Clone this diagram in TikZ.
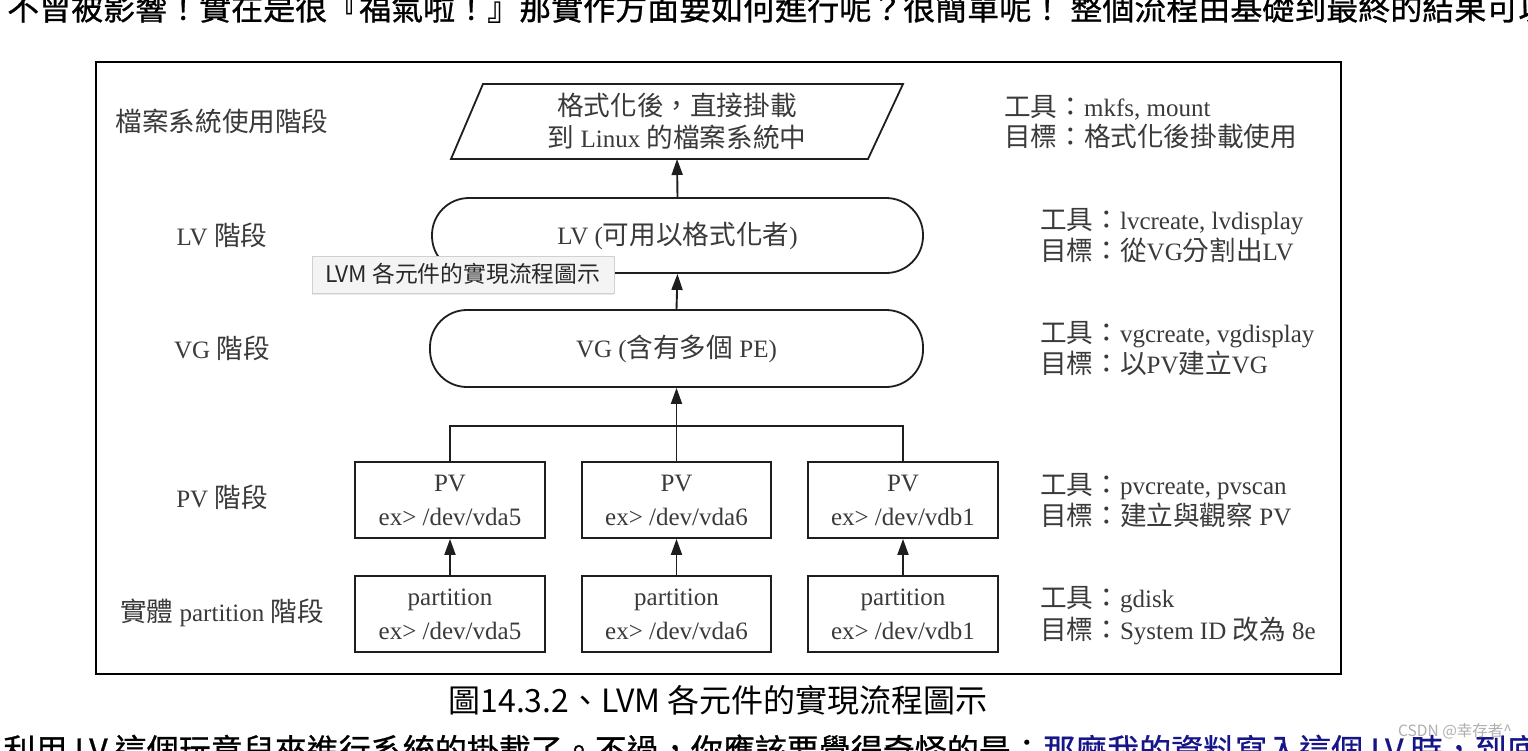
\documentclass[tikz,border=0pt]{standalone}
\usepackage{fontspec}
\setmainfont{Liberation Serif}
\newfontfamily\cjk[Scale=1.065]{Noto Sans CJK TC}
\newfontfamily\web{Noto Sans CJK TC}
\newfontfamily\webb[FakeBold=0.8]{Noto Sans CJK TC}
\usetikzlibrary{arrows.meta,shadows}
\definecolor{txt}{HTML}{3A3A3A}
\definecolor{ln}{HTML}{1E1E1E}
\definecolor{linkblue}{HTML}{16168A}
\definecolor{tipfill}{HTML}{F4F4F4}
\definecolor{tipline}{HTML}{D0D0D0}
\newcommand\zh[1]{{\cjk #1}}
\begin{document}
\begin{tikzpicture}[x=1pt,y=-1pt,
  dtext/.style={text=txt,font=\fontsize{25}{32}\selectfont,inner sep=0pt,align=center},
  stagelabel/.style={dtext,anchor=base},
  note/.style={dtext,anchor=base west},
  stadium/.style={dtext,draw=ln,line width=1.8pt,rounded corners=37pt,minimum height=75pt},
  devbox/.style={dtext,draw=ln,line width=1.8pt,minimum width=190pt,minimum height=76pt,font=\fontsize{25}{34}\selectfont},
  conn/.style={draw=ln,line width=1.9pt,-{Triangle[length=16pt,width=11pt]}},
  wire/.style={draw=ln,line width=1.9pt},
  webtext/.style={font=\webb\fontsize{32}{38}\selectfont,inner sep=0pt,text=black}
]
\useasboundingbox (0,0) rectangle (1528,750);
\fill[white] (0,0) rectangle (1528,750);
\begin{scope}
\clip (0,0) rectangle (1528,750);
% surrounding page text
\node[webtext,anchor=base west] (toptext) at (7,20) {不曾被影響！實在是很『福氣啦！』那實作方面要如何進行呢？很簡單呢！ 整個流程由基礎到最終的結果可以};
\node[webtext,anchor=base east] (bottext) at (1043,762) {利用 LV 這個玩意兒來進行系統的掛載了。不過，你應該要覺得奇怪的是：};
\node[webtext,anchor=base west,text=linkblue] (botlink) at (1043,762) {那麼我的資料寫入這個 LV 時，到底};
\end{scope}
\node[inner sep=0pt,text=black,font=\web\fontsize{32}{38}\selectfont,anchor=base] (caption) at (718,712) {圖14.3.2、LVM 各元件的實現流程圖示};
\node[font=\web\fontsize{15.5}{17}\selectfont,text={rgb,255:red,175;green,175;blue,175},anchor=base west,inner sep=0pt] (wm) at (1398,736) {CSDN @幸存者\^{}};

% frame
\draw[line width=2pt,black] (96,62) rectangle (1341,674);

% left stage labels
\node[stagelabel] (l1) at (222,131.5) {\zh{檔案系統使用階段}};
\node[stagelabel] (l2) at (222,245.5) {LV \zh{階段}};
\node[stagelabel] (l3) at (222,358.5) {VG \zh{階段}};
\node[stagelabel] (l4) at (222,507.5) {PV \zh{階段}};
\node[stagelabel] (l5) at (222,621.5) {\zh{實體} partition \zh{階段}};

% parallelogram (file system)
\coordinate (fsbl) at (451,159);
\coordinate (fsbr) at (868,159);
\coordinate (fstr) at (903,84);
\coordinate (fstl) at (483,84);
\draw[ln,line width=1.8pt] (fsbl) -- (fstl) -- (fstr) -- (fsbr) -- cycle;
\coordinate (fsb) at (677,159);
\node[dtext] (fs) at (677,121.5) {\zh{格式化後，直接掛載}\\\zh{到} Linux \zh{的檔案系統中}};

% LV and VG
\node[stadium,minimum width=491pt] (lv) at (677.5,235.5) {LV (\zh{可用以格式化者})};
\node[stadium,minimum width=493pt,minimum height=77pt] (vg) at (676.5,348.5) {VG (\zh{含有多個} PE)};

% PV boxes
\node[devbox] (pv1) at (450,500) {PV\\ex> /dev/vda5};
\node[devbox,minimum width=189pt] (pv2) at (676.5,500) {PV\\ex> /dev/vda6};
\node[devbox] (pv3) at (903,500) {PV\\ex> /dev/vdb1};

% partitions
\node[devbox] (pt1) at (450,614) {partition\\ex> /dev/vda5};
\node[devbox,minimum width=189pt] (pt2) at (676.5,614) {partition\\ex> /dev/vda6};
\node[devbox] (pt3) at (903,614) {partition\\ex> /dev/vdb1};

% connectors
\draw[conn] (pt1) -- (pv1);
\draw[conn] (pt2) -- (pv2);
\draw[conn] (pt3) -- (pv3);
\coordinate (bus) at (676.5,426);
\draw[wire] (pv1.north) |- (bus) -| (pv3.north);
\draw[conn] (pv2.north) -- (vg.south);
\draw[conn] (vg.north) -- (lv.south);
\draw[conn] (lv.north) -- (fsb);

% right notes
\node[note] (n1a) at (1004,116.5) {\zh{工具：}mkfs, mount};
\node[note] (n1b) at (1004,146.5) {\zh{目標：格式化後掛載使用}};
\node[note] (n2a) at (1040,229.5) {\zh{工具：}lvcreate, lvdisplay};
\node[note] (n2b) at (1040,260.5) {\zh{目標：從}VG\zh{分割出}LV};
\node[note] (n3a) at (1040,342.5) {\zh{工具：}vgcreate, vgdisplay};
\node[note] (n3b) at (1040,373.5) {\zh{目標：以}PV\zh{建立}VG};
\node[note] (n4a) at (1040,494.5) {\zh{工具：}pvcreate, pvscan};
\node[note] (n4b) at (1040,525.5) {\zh{目標：建立與觀察} PV};
\node[note] (n5a) at (1040,607.5) {\zh{工具：}gdisk};
\node[note] (n5b) at (1040,639.5) {\zh{目標：}System ID \zh{改為} 8e};

% tooltip
\node[draw=tipline,fill=tipfill,line width=0.8pt,minimum width=302pt,minimum height=37pt,inner sep=0pt,
  drop shadow={opacity=0.16,shadow xshift=0pt,shadow yshift=-2pt}] (tip) at (463,274.5) {};
\node[font=\web\fontsize{22.8}{26}\selectfont,text={rgb,255:red,40;green,40;blue,40},anchor=base west,inner sep=0pt] (tiptext) at (325,282.5) {LVM 各元件的實現流程圖示};
\end{tikzpicture}
\end{document}
